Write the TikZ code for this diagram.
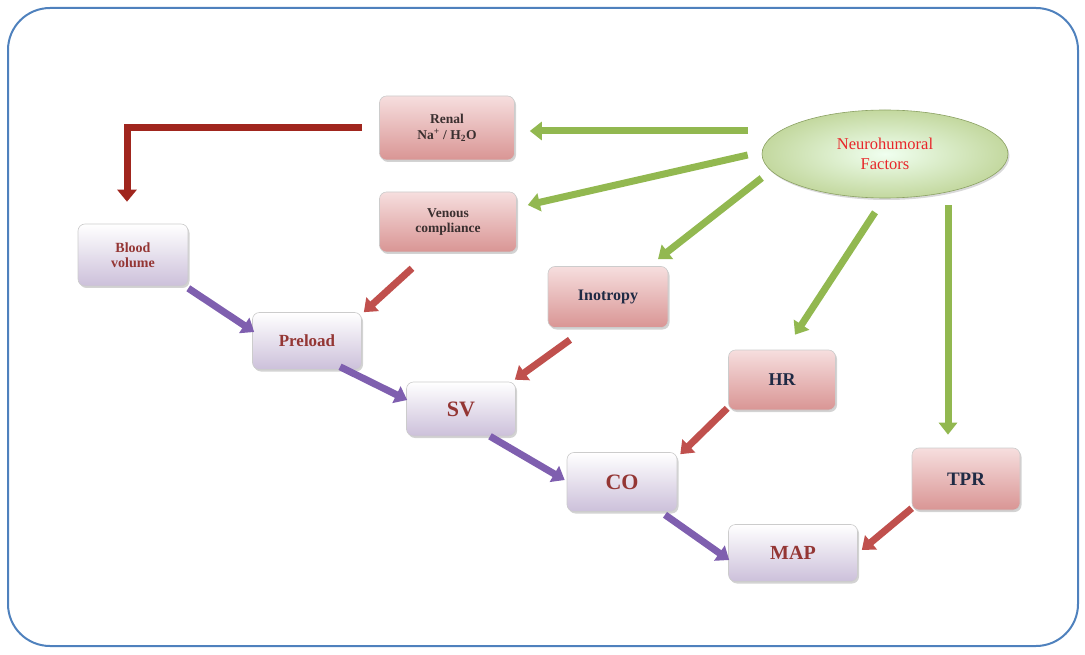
\documentclass[tikz,border=0pt]{standalone}
\usepackage{fontspec}
\setmainfont{Liberation Serif}
\usetikzlibrary{arrows.meta,shapes.geometric,shadows,calc}
\definecolor{frameblue}{HTML}{4F81BD}
\definecolor{pinktop}{HTML}{F6DEDE}
\definecolor{pinkbot}{HTML}{D99594}
\definecolor{lavtop}{HTML}{FFFFFF}
\definecolor{lavbot}{HTML}{CCC0DA}
\definecolor{txtred}{HTML}{943634}
\definecolor{txtnavy}{HTML}{1F2A44}
\definecolor{txtgray}{HTML}{3A2F2F}
\definecolor{neured}{HTML}{E8262A}
\definecolor{grn}{HTML}{92B850}
\definecolor{redarr}{HTML}{C0504D}
\definecolor{darkred}{HTML}{A0261E}
\definecolor{purp}{HTML}{7F5FAF}
\tikzset{
  box/.style={rectangle, rounded corners=7pt, draw=white!80!black, line width=0.6pt,
    align=center, font=\bfseries,
    drop shadow={opacity=0.35, shadow xshift=1.5pt, shadow yshift=-2pt}},
  pinkbox/.style={box, top color=pinktop, bottom color=pinkbot},
  lavbox/.style={box, top color=lavtop, bottom color=lavbot, text=txtred},
  garrow/.style={draw=grn, line width=7pt, -{Triangle[length=12pt,width=18pt]}},
  rarrow/.style={draw=redarr, line width=7pt, -{Triangle[length=12pt,width=18pt]}},
  parrow/.style={draw=purp, line width=7pt, -{Triangle[length=12pt,width=18pt]}},
  darrow/.style={draw=darkred, line width=7pt, -{Triangle[length=12pt,width=19pt]}},
}
\begin{document}
\begin{tikzpicture}[x=1pt,y=-1pt]
\useasboundingbox (0,0) rectangle (1085,655);
\draw[frameblue, line width=2pt, rounded corners=42pt] (8,8) rectangle (1078,646);

% nodes
\node[pinkbox, minimum width=135pt, minimum height=64pt, text=txtgray,
  font=\bfseries\fontsize{13.5}{15.5}\selectfont] (renal) at (447,128) {Renal\\Na\textsuperscript{+} / H\textsubscript{2}O};
\node[pinkbox, minimum width=137pt, minimum height=60pt, text=txtgray,
  font=\bfseries\fontsize{13.5}{15.5}\selectfont] (venous) at (448,222) {Venous\\compliance};
\node[ellipse, minimum width=246pt, minimum height=88pt, inner color=green!6!white,
  outer color=grn!55!white, draw=grn!60!gray, line width=0.6pt, text=neured,
  align=center, font=\fontsize{16.5}{19.5}\selectfont,
  drop shadow={opacity=0.3, shadow xshift=1.5pt, shadow yshift=-2pt}] (neuro) at (885,154) {Neurohumoral\\Factors};
\node[lavbox, minimum width=110pt, minimum height=62pt,
  font=\bfseries\fontsize{14}{15}\selectfont] (blood) at (133,255) {Blood\\volume};
\node[lavbox, minimum width=109pt, minimum height=57pt,
  font=\bfseries\fontsize{17}{20}\selectfont] (preload) at (307,341) {Preload};
\node[pinkbox, minimum width=120pt, minimum height=61pt, text=txtnavy,
  font=\bfseries\fontsize{16}{19}\selectfont] (inotropy) at (608,297) {Inotropy};
\node[lavbox, minimum width=109pt, minimum height=54pt,
  font=\bfseries\fontsize{22}{25}\selectfont] (sv) at (461,409) {SV};
\node[pinkbox, minimum width=107pt, minimum height=60pt, text=txtnavy,
  font=\bfseries\fontsize{18}{21}\selectfont] (hr) at (782,380) {HR};
\node[lavbox, minimum width=110pt, minimum height=59pt,
  font=\bfseries\fontsize{22}{25}\selectfont] (co) at (622,482) {CO};
\node[pinkbox, minimum width=108pt, minimum height=62pt, text=txtnavy,
  font=\bfseries\fontsize{19}{22}\selectfont] (tpr) at (966,479) {TPR};
\node[lavbox, minimum width=129pt, minimum height=57pt,
  font=\bfseries\fontsize{20}{23}\selectfont] (map) at (793,553) {MAP};

% green arrows
\draw[garrow] ($(neuro.west)+(-14,-23)$) -- ($(renal.east)+(15,3)$);
\draw[garrow] ($(neuro.west)+(-14,1)$) -- ($(venous.east)+(11,-17)$);
\draw[garrow] ($(neuro.west)+(0,24)$) -- ($(inotropy.north)+(50,-7)$);
\draw[garrow] ($(neuro.south)+(-10,14)$) -- ($(hr.north)+(13,-15)$);
\draw[garrow] ($(neuro.south)+(63,7)$) -- ($(tpr.north)+(-18,-13)$);

% dark red L arrow
\draw[darrow] ($(renal.west)+(-17,0)$) -| ($(blood.north)+(-6,-22)$);

% red arrows
\draw[rarrow] ($(venous.south)+(-36,16)$) -- ($(preload.north east)+(2,0)$);
\draw[rarrow] ($(inotropy.south)+(-38,12)$) -- ($(sv.north east)+(-1,-2)$);
\draw[rarrow] ($(hr.south west)+(-1,-2)$) -- ($(co.north east)+(3,2)$);
\draw[rarrow] ($(tpr.south west)+(0,-2)$) -- ($(map.east)+(4,-3)$);

% purple arrows
\draw[parrow] ($(blood.south east)+(0,2)$) -- ($(preload.west)+(2,-9)$);
\draw[parrow] ($(preload.south)+(33,-3)$) -- ($(sv.west)+(1,-9)$);
\draw[parrow] ($(sv.south)+(29,0)$) -- ($(co.west)+(-2,-2)$);
\draw[parrow] ($(co.south)+(43,3)$) -- ($(map.west)+(1,7)$);
\end{tikzpicture}
\end{document}
